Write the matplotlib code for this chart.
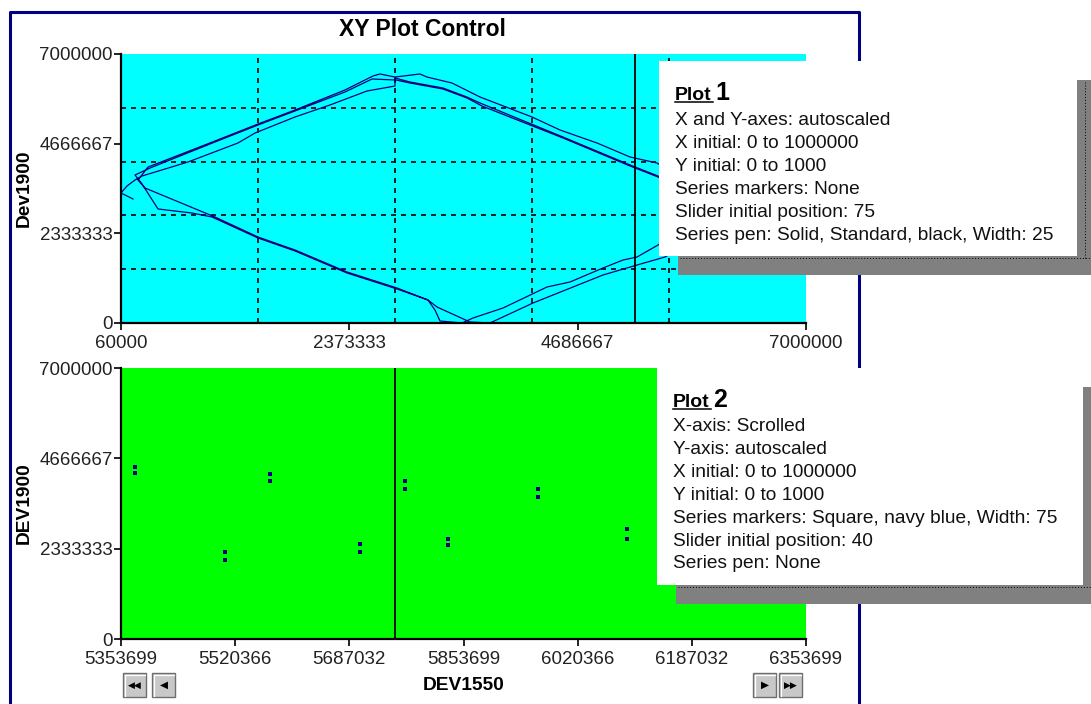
import matplotlib
matplotlib.use('Agg')
import matplotlib.pyplot as plt
from matplotlib.patches import Rectangle
from matplotlib.lines import Line2D
import numpy as np

plt.rcParams['font.family'] = ['Liberation Sans', 'DejaVu Sans']

W, H = 1091, 704

# ---- plot 1: DEV1550 vs Dev1900 trace (several passes of one series) ----
top1_x = [182000, 60000, 121000, 202000, 273000, 739000, 1245000, 1418000, 1823000, 2177000,
          2552000, 2836000, 2836000, 2988000, 3322000, 3565000, 3697000, 4538000, 5217000,
          5501000, 6189000]
top1_y = [3227000, 3383000, 3565000, 3721000, 3825000, 4190000, 4684000, 4944000, 5361000,
          5673000, 6037000, 6167000, 6375000, 6271000, 6115000, 5881000, 5725000, 4840000,
          4112000, 3825000, 3097000]
bot1_x = [5501000, 5288000, 5146000, 4943000, 4609000, 4376000, 3930000, 3626000, 3515000,
          3292000, 3241000, 3170000, 2856000, 2350000, 1823000, 1448000, 1012000, 303000, 232000]
bot1_y = [2030000, 1717000, 1639000, 1431000, 1067000, 937000, 390000, 130000, 0, 52000,
          338000, 599000, 911000, 1327000, 1900000, 2238000, 2758000, 3513000, 3721000]
top2_x = [334000, 1012000, 1448000, 1823000, 2329000, 2613000, 2684000, 2836000, 3089000,
          3160000, 3413000, 3495000, 3697000, 4224000, 4508000, 4883000, 5217000, 5490000, 6331000]
top2_y = [4059000, 4736000, 5178000, 5543000, 6063000, 6428000, 6480000, 6401000, 6480000,
          6401000, 6245000, 6141000, 5881000, 5361000, 5022000, 4684000, 4320000, 4164000, 2810000]
bot2_x = [5571000, 5288000, 4943000, 4234000, 3798000, 3596000, 3262000, 3170000, 2856000,
          2350000, 1823000, 1448000, 982000, 779000, 435000, 273000, 202000]
bot2_y = [1717000, 1509000, 1249000, 520000, 0, 26000, 416000, 599000, 885000, 1301000,
          1874000, 2212000, 2758000, 2862000, 2967000, 3617000, 3851000]
top3_x = [354000, 1012000, 1448000, 1823000, 2329000, 2603000, 2846000, 2988000, 3322000,
          3565000, 3717000, 4538000, 5217000, 5501000, 6331000]
top3_y = [4033000, 4710000, 5152000, 5517000, 6011000, 6349000, 6323000, 6245000, 6089000,
          5855000, 5647000, 4814000, 4086000, 3799000, 2810000]

p1_xlim = (60000, 7000000)
p1_ylim = (0, 7000000)
p1_xticks = [60000, 2373333, 4686667, 7000000]
p1_yticks = [0, 2333333, 4666667, 7000000]
p1_slider = 75

# ---- plot 2: scrolled x-axis, square markers ----
p2_x = [5374000, 5505500, 5571200, 5702600, 5768300, 5831100, 5962500, 6092400]
p2_y_hi = [4443000, 2247000, 4262000, 2454000, 4081000, 2583000, 3875000, 2841000]
p2_y_lo = [4288000, 2041000, 4081000, 2247000, 3875000, 2428000, 3668000, 2583000]
p2_xticks = [5353699, 5520366, 5687032, 5853699, 6020366, 6187032, 6353699]
p2_yticks = [0, 2333333, 4666667, 7000000]
p2_slider = 40

box1_lines = ["X and Y-axes: autoscaled", "X initial: 0 to 1000000", "Y initial: 0 to 1000",
              "Series markers: None", "Slider initial position: 75",
              "Series pen: Solid, Standard, black, Width: 25"]
box2_lines = ["X-axis: Scrolled", "Y-axis: autoscaled", "X initial: 0 to 1000000",
              "Y initial: 0 to 1000", "Series markers: Square, navy blue, Width: 75",
              "Slider initial position: 40", "Series pen: None"]

navy = '#000080'


def fx(px):
    return px / W


def fy(py):
    return 1 - py / H


fig = plt.figure(figsize=(W / 100, H / 100), dpi=100, facecolor='white')


def style_axes(ax, face):
    ax.set_facecolor(face)
    for s in ['top', 'right']:
        ax.spines[s].set_visible(False)
    for s in ['left', 'bottom']:
        ax.spines[s].set_linewidth(1.6)
        ax.spines[s].set_color('black')
    ax.tick_params(which='major', direction='out', length=5, width=1.4, labelsize=13.5,
                   colors='#222222')
    ax.tick_params(axis='y', pad=1)
    ax.tick_params(axis='x', pad=4)


ax1 = fig.add_axes([fx(121), fy(323), 685 / W, 269 / H])
style_axes(ax1, '#00FFFF')
ax1.set_xlim(*p1_xlim)
ax1.set_ylim(*p1_ylim)
ax1.set_xticks(p1_xticks)
ax1.set_xticklabels([str(v) for v in p1_xticks])
ax1.set_yticks(p1_yticks)
ax1.set_yticklabels([str(v) for v in p1_yticks])
ax1.set_xticks(np.linspace(p1_xlim[0], p1_xlim[1], 6)[1:-1], minor=True)
ax1.set_yticks(np.linspace(p1_ylim[0], p1_ylim[1], 6)[1:-1], minor=True)
ax1.tick_params(which='minor', length=0)
ax1.grid(which='minor', color='black', linestyle=(0, (3, 3)), linewidth=1.2)
ax1.grid(which='major', visible=False)
ax1.set_axisbelow(True)

trace_x = top1_x + bot1_x + top2_x + bot2_x + top3_x
trace_y = top1_y + bot1_y + top2_y + bot2_y + top3_y
ax1.plot(trace_x, trace_y, color=navy, linewidth=0.9, clip_on=True)
ax1.axvline(p1_xlim[0] + p1_slider / 100 * (p1_xlim[1] - p1_xlim[0]), color='black', linewidth=1.3)
ax1.set_ylabel('Dev1900', fontsize=13.8, fontweight='bold')
ax1.yaxis.set_label_coords(-0.1416, 0.5)
ax1.yaxis.label.set_va('center')

ax2 = fig.add_axes([fx(121), fy(639), 685 / W, 271 / H])
style_axes(ax2, '#00FF00')
ax2.set_xlim(p2_xticks[0], p2_xticks[-1])
ax2.set_ylim(0, 7000000)
ax2.set_xticks(p2_xticks)
ax2.set_xticklabels([str(v) for v in p2_xticks])
ax2.set_yticks(p2_yticks)
ax2.set_yticklabels([str(v) for v in p2_yticks])
ax2.plot(p2_x, p2_y_hi, 's', color=navy, markersize=2.6, markeredgewidth=0)
ax2.plot(p2_x, p2_y_lo, 's', color=navy, markersize=2.6, markeredgewidth=0)
ax2.axvline(p2_xticks[0] + p2_slider / 100 * (p2_xticks[-1] - p2_xticks[0]), color='black',
            linewidth=1.3)
ax2.set_ylabel('DEV1900', fontsize=13.8, fontweight='bold')
ax2.yaxis.set_label_coords(-0.1416, 0.5)
ax2.yaxis.label.set_va('center')
ax2.set_xlabel('DEV1550', fontsize=13.8, fontweight='bold')
ax2.xaxis.set_label_coords(0.5, -0.173)
ax2.xaxis.label.set_va('center')

# title and frame
fig.text(fx(422), fy(36), 'XY Plot Control', fontsize=16.5, fontweight='bold', ha='center',
         va='baseline')
fig.add_artist(Line2D([fx(10), fx(10), fx(859), fx(859)], [0, fy(12), fy(12), 0],
                      transform=fig.transFigure, color=navy, linewidth=2.2, zorder=0.5))


def info_box(x0, y0, w, h, title_num, lines, first_base):
    fig.add_artist(Rectangle((fx(x0 + 19), fy(y0 + h + 19)), (W - x0) / W, h / H,
                             transform=fig.transFigure, facecolor='#808080', edgecolor='none',
                             zorder=5))
    fig.add_artist(Line2D([fx(x0 + 21), 1], [fy(y0 + h + 2)] * 2, transform=fig.transFigure,
                          color='black', linewidth=0.7, linestyle=(0, (1, 2)), zorder=5.5))
    fig.add_artist(Line2D([fx(x0 + w + 8)] * 2, [fy(y0 + 21), fy(y0 + h + 2)],
                          transform=fig.transFigure, color='black', linewidth=0.7,
                          linestyle=(0, (1, 2)), zorder=5.5))
    fig.add_artist(Rectangle((fx(x0), fy(y0 + h)), w / W, h / H, transform=fig.transFigure,
                             facecolor='white', edgecolor='none', zorder=6))
    tx = x0 + 16
    t = fig.text(fx(tx), fy(y0 + 39), 'Plot', fontsize=14, fontweight='bold', va='baseline',
                 zorder=7)
    fig.canvas.draw()
    bb = t.get_window_extent()
    fig.add_artist(Line2D([fx(tx), bb.x1 / W + 1 / W], [fy(y0 + 41)] * 2,
                          transform=fig.transFigure, color='black', linewidth=1.1, zorder=7))
    fig.text(bb.x1 / W + 4 / W, fy(y0 + 39), title_num, fontsize=18, fontweight='bold',
             va='baseline', zorder=7)
    for i, s in enumerate(lines):
        fig.text(fx(tx), fy(first_base + 22.9 * i), s, fontsize=13.8, va='baseline',
                 color='#111111', zorder=7)


info_box(659, 61, 418, 195, '1', box1_lines, 125)
info_box(657, 368, 426, 217, '2', box2_lines, 431)

# scroll buttons
buttons = [(123, '\u25c0\u25c0', 6.5), (152, '\u25c0', 7.5), (753, '\u25b6', 7.5),
           (779, '\u25b6\u25b6', 6.5)]
for bx, glyph, gsize in buttons:
    fig.add_artist(Rectangle((fx(bx), fy(697)), 23 / W, 24 / H, transform=fig.transFigure,
                             facecolor='#c8c8c8', edgecolor='#6e6e6e', linewidth=1.0, zorder=4))
    fig.add_artist(Line2D([fx(bx + 1.5), fx(bx + 1.5), fx(bx + 21.5)],
                          [fy(695.5), fy(674.5), fy(674.5)], transform=fig.transFigure,
                          color='white', linewidth=0.9, zorder=4.5))
    fig.text(fx(bx + 11.5), fy(685), glyph, family='DejaVu Sans', fontsize=gsize, ha='center',
             va='center', color='black', zorder=5)

fig.savefig('out.png', dpi=100, facecolor='white')
